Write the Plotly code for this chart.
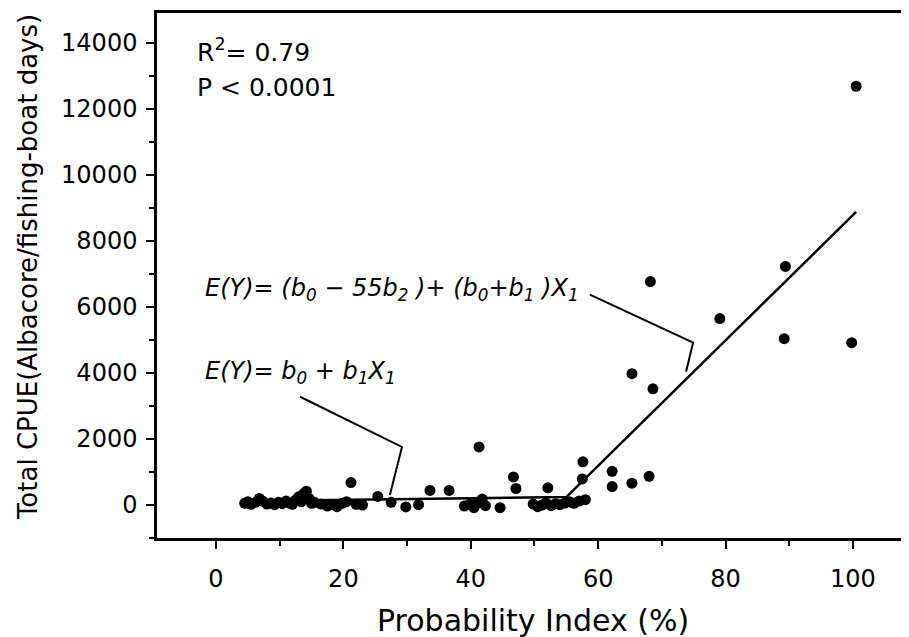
import plotly.graph_objects as go

# ---- data ----
prob_index = [4.5, 5.0, 5.5, 6.2, 6.8, 7.3, 8.0, 8.6, 9.2, 9.8, 10.4, 11.0, 11.5, 12.0,
              12.5, 13.0, 13.4, 13.8, 14.2, 14.6, 15.0, 15.5, 16.5, 17.5, 18.3, 19.0,
              19.8, 20.5, 21.2, 22.0, 23.0, 25.4, 27.5, 29.8, 31.8, 33.6, 36.6, 39.0,
              39.8, 40.5, 41.0, 41.3, 41.8, 42.3, 44.6, 46.7, 47.1, 49.8, 50.5, 51.2,
              51.8, 52.1, 52.6, 53.3, 54.0, 54.8, 55.5, 56.2, 57.0, 57.5, 57.6, 58.0,
              62.2, 62.2, 65.3, 65.3, 68.0, 68.2, 68.6, 79.1, 89.2, 89.4, 99.8, 100.5]
cpue = [50, 100, 20, 80, 200, 120, 30, 60, 10, 80, 40, 120, 60, 20,
        150, 250, 100, 350, 420, 200, 50, 80, 30, -30, 10, -50,
        50, 100, 680, 20, 0, 260, 80, -60, 10, 440, 440, -30,
        20, -80, 60, 1760, 180, -20, -80, 850, 500, 30, -50, 0,
        60, 520, -20, 40, 10, 60, 100, 50, 120, 790, 1310, 160,
        1020, 560, 660, 3980, 870, 6770, 3520, 5650, 5040, 7230, 4920, 12690]

# piecewise regression line (breakpoint at 55)
fit_x = [4.5, 55.0, 100.5]
fit_y = [120, 240, 8880]

# annotation leader lines
leader1_x = [58.7, 74.9, 73.8]
leader1_y = [6377, 4920, 4040]
leader2_x = [13.2, 29.2, 27.3]
leader2_y = [3280, 1760, 300]

x_ticks = [0, 20, 40, 60, 80, 100]
y_ticks = [0, 2000, 4000, 6000, 8000, 10000, 12000, 14000]

FONT = "DejaVu Sans"

fig = go.Figure()
fig.add_trace(go.Scatter(x=prob_index, y=cpue, mode="markers",
                         marker=dict(color="black", size=11), showlegend=False))
fig.add_trace(go.Scatter(x=fit_x, y=fit_y, mode="lines",
                         line=dict(color="black", width=2.5), showlegend=False))
for lx, ly in [(leader1_x, leader1_y), (leader2_x, leader2_y)]:
    fig.add_trace(go.Scatter(x=lx, y=ly, mode="lines",
                             line=dict(color="black", width=2), showlegend=False))

fig.add_annotation(x=-3.3, y=13760, xref="x", yref="y", xanchor="left", yanchor="middle",
                   text="R<sup>2</sup>= 0.79", showarrow=False,
                   font=dict(family=FONT, size=25, color="black"))
fig.add_annotation(x=-3.3, y=12660, xref="x", yref="y", xanchor="left", yanchor="middle",
                   text="P < 0.0001", showarrow=False,
                   font=dict(family=FONT, size=25, color="black"))
fig.add_annotation(x=-2.0, y=6530, xref="x", yref="y", xanchor="left", yanchor="middle",
                   text="<i>E(Y)= (b<sub>0</sub> \u2212 55b<sub>2</sub> )+ (b<sub>0</sub>+b<sub>1</sub> )X<sub>1</sub></i>",
                   showarrow=False, font=dict(family=FONT, size=24, color="black"))
fig.add_annotation(x=-2.0, y=4010, xref="x", yref="y", xanchor="left", yanchor="middle",
                   text="<i>E(Y)= b<sub>0</sub> + b<sub>1</sub>X<sub>1</sub></i>",
                   showarrow=False, font=dict(family=FONT, size=24, color="black"))

# axis titles
fig.add_annotation(x=0.5, y=0, xref="paper", yref="paper", yshift=-82,
                   xanchor="center", yanchor="middle", showarrow=False,
                   text="Probability Index (%)", font=dict(family=FONT, size=30, color="black"))
fig.add_annotation(x=0, y=0.516, xref="paper", yref="paper", xshift=-129,
                   xanchor="center", yanchor="middle", showarrow=False, textangle=-90,
                   text="Total CPUE(Albacore/fishing-boat days)",
                   font=dict(family=FONT, size=26, color="black"))

fig.update_xaxes(range=[-9.26, 108.8], tickvals=x_ticks, ticktext=[str(v) for v in x_ticks],
                 ticks="outside", ticklen=8,
                 tickwidth=2, tickcolor="black", showline=True, linecolor="black",
                 linewidth=2.5, mirror=True, showgrid=False, zeroline=False,
                 ticklabelstandoff=9,
                 tickfont=dict(family=FONT, size=24, color="black"),
                 minor=dict(dtick=10, tick0=0, ticks="outside", ticklen=5, tickwidth=2,
                            tickcolor="black", showgrid=False))
fig.update_yaxes(range=[-1000, 14910], tickvals=y_ticks, ticktext=[str(v) for v in y_ticks],
                 ticks="outside", ticklen=8,
                 tickwidth=2, tickcolor="black", showline=True, linecolor="black",
                 linewidth=2.5, mirror=False, showgrid=False, zeroline=False,
                 ticklabelstandoff=4,
                 tickfont=dict(family=FONT, size=24, color="black"),
                 minor=dict(dtick=1000, tick0=0, ticks="outside", ticklen=5, tickwidth=2,
                            tickcolor="black", showgrid=False))

# page body has an 8px default margin, so the figure is sized to fit the window
fig.update_layout(width=901, height=629, margin=dict(l=149, r=0, t=5, b=99),
                  plot_bgcolor="white", paper_bgcolor="white")

fig.write_html("out.html")
